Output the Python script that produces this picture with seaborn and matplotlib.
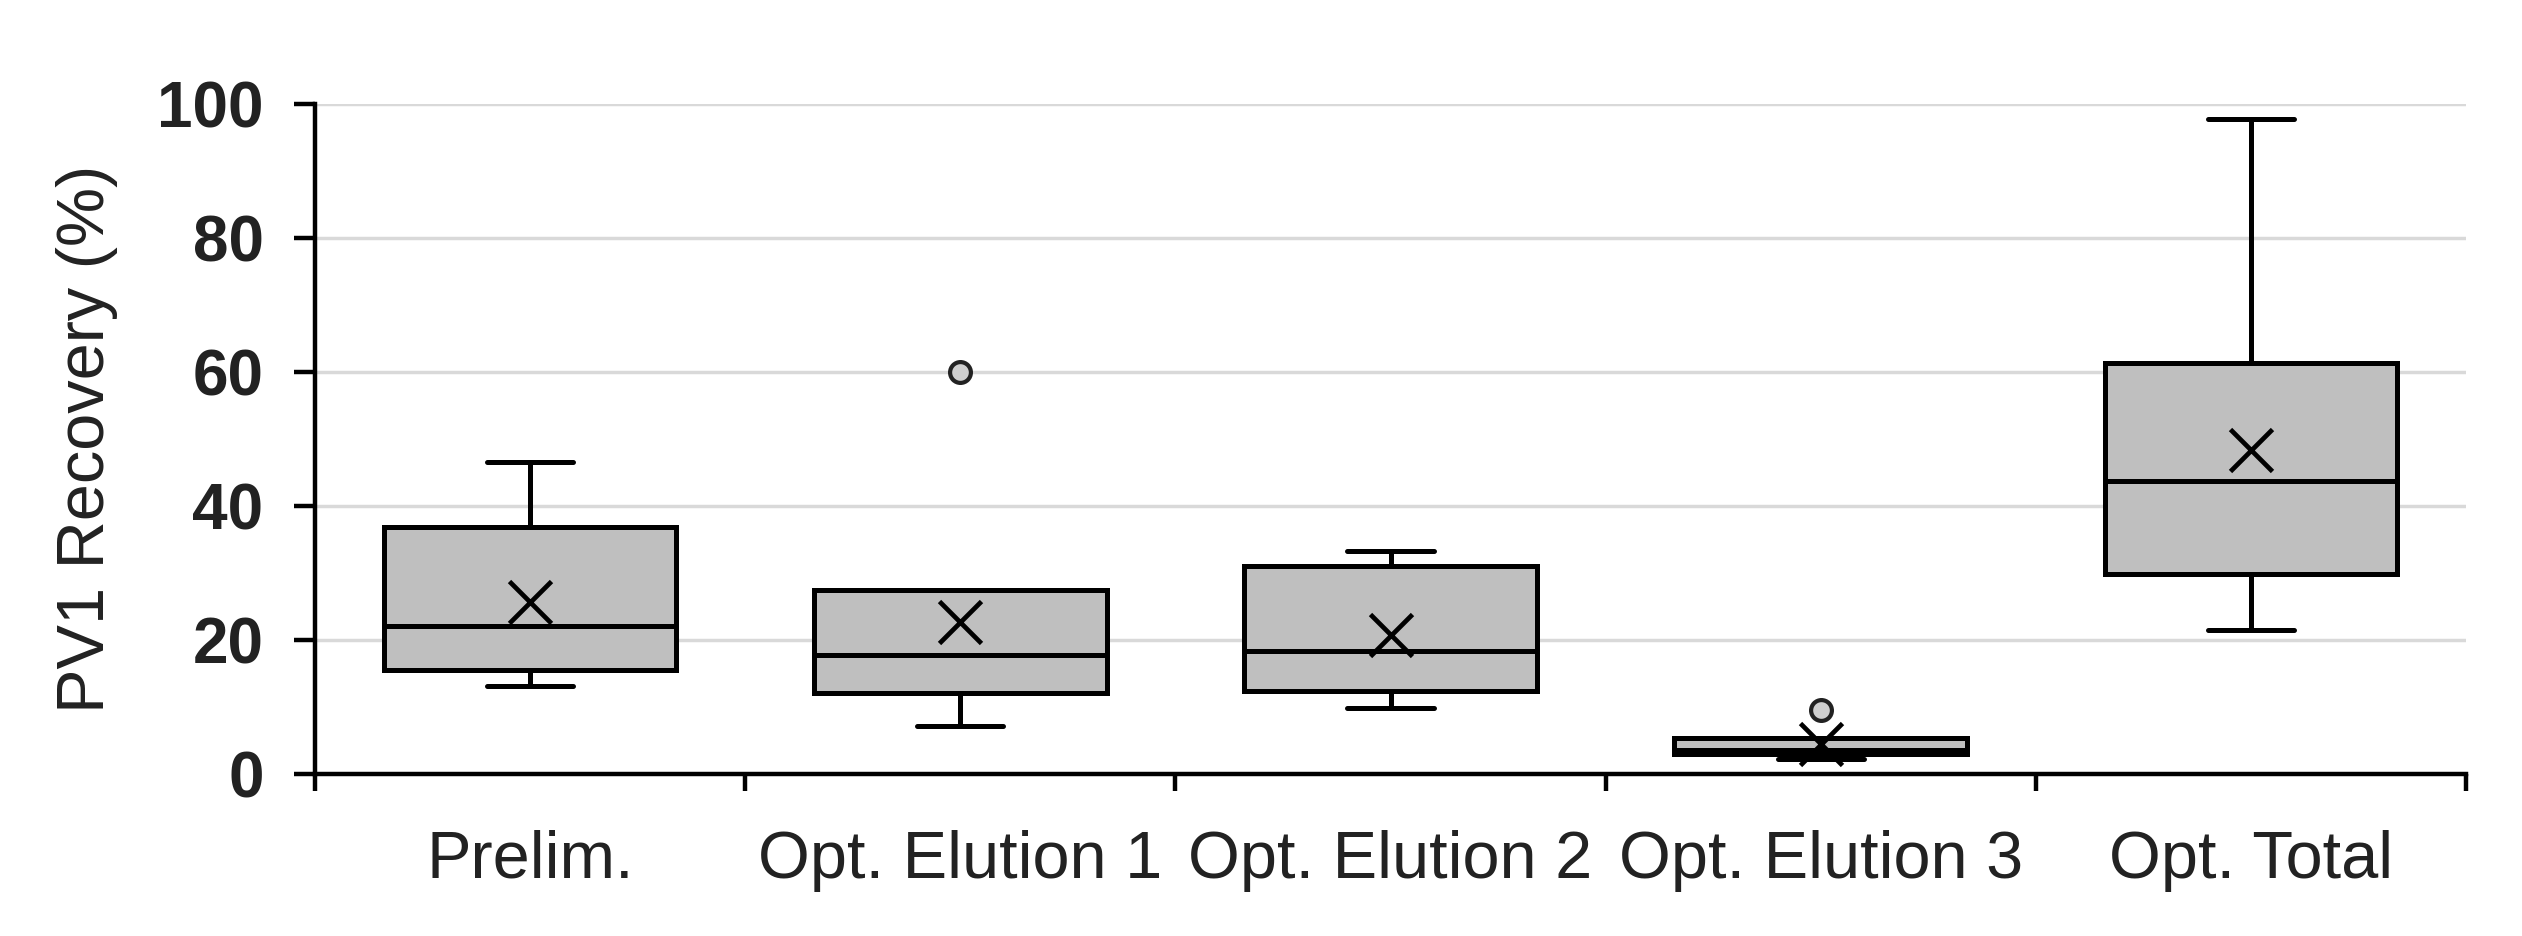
import matplotlib
matplotlib.use("Agg")
import matplotlib.pyplot as plt
import pandas as pd
import seaborn as sns


# values (9 samples per group)
categories = ["Prelim.", "Opt. Elution 1", "Opt. Elution 2", "Opt. Elution 3", "Opt. Total"]
prelim = [13.1, 14.5, 15.5, 19.0, 22.1, 24.6, 36.9, 39.0, 46.6]
elution1 = [7.2, 10.0, 12.1, 16.0, 17.8, 26.2, 27.5, 27.5, 60.0]
elution2 = [9.8, 11.0, 12.4, 15.0, 18.4, 24.2, 31.1, 32.0, 33.3]
elution3 = [2.3, 2.9, 3.0, 3.4, 3.6, 5.1, 5.3, 5.3, 9.6]
total = [21.5, 25.0, 29.8, 38.0, 43.8, 52.0, 61.3, 65.6, 97.7]
y_ticks = [0, 20, 40, 60, 80, 100]


def main():
    groups = [prelim, elution1, elution2, elution3, total]
    df = pd.DataFrame({
        "group": [c for c, vals in zip(categories, groups) for _ in vals],
        "recovery": [v for vals in groups for v in vals],
    })

    sns.set_theme(style="white")
    plt.rcParams["font.family"] = ["Liberation Sans", "DejaVu Sans"]

    fig = plt.figure(figsize=(25.22, 9.36), dpi=100)
    ax = fig.add_axes([0.1249, 0.1731, 0.8529, 0.7158])
    ax.set_axisbelow(True)
    ax.yaxis.grid(True, color="#d9d9d9", linewidth=2.5)
    ax.xaxis.grid(False)

    sns.boxplot(
        data=df, x="group", y="recovery", order=categories,
        color="#bfbfbf", saturation=1, width=0.68,
        linecolor="black", linewidth=3.6,
        showmeans=True,
        meanprops=dict(marker="x", markersize=30, markeredgewidth=3.4,
                       markeredgecolor="black"),
        flierprops=dict(marker="o", markersize=15, markerfacecolor="#cfcfcf",
                        markeredgecolor="#222222", markeredgewidth=3),
        ax=ax,
    )

    # narrower whisker caps
    for cont in ax.containers:
        for cap in getattr(cont, "caps", []):
            xs = cap.get_xdata()
            mid = (xs[0] + xs[1]) / 2
            cap.set_xdata([mid - 0.1, mid + 0.1])

    ax.set_xlim(-0.5, 4.5)
    ax.set_ylim(0, 100)
    ax.set_yticks(y_ticks, labels=[str(t) for t in y_ticks],
                  fontweight="bold", fontsize=46)
    ax.set_xticks(range(len(categories)), labels=categories, fontsize=48)
    ax.set_xticks([i - 0.5 for i in range(len(categories) + 1)], minor=True)

    for side in ["top", "right"]:
        ax.spines[side].set_visible(False)
    for side in ["left", "bottom"]:
        ax.spines[side].set_color("black")
        ax.spines[side].set_linewidth(3.2)

    ax.tick_params(axis="y", left=True, direction="out", length=15, width=3.2,
                   color="black", pad=22, labelcolor="#222222")
    ax.tick_params(axis="x", which="major", bottom=True, length=0, pad=40,
                   labelcolor="#222222")
    ax.tick_params(axis="x", which="minor", bottom=True, direction="out",
                   length=12, width=3.2, color="black")

    ax.set_xlabel("")
    ax.set_ylabel("PV1 Recovery (%)", fontsize=48, color="#222222")
    ax.yaxis.set_label_coords(-0.0916, 0.5)

    plt.savefig("out.png", dpi=100)


if __name__ == "__main__":
    main()
